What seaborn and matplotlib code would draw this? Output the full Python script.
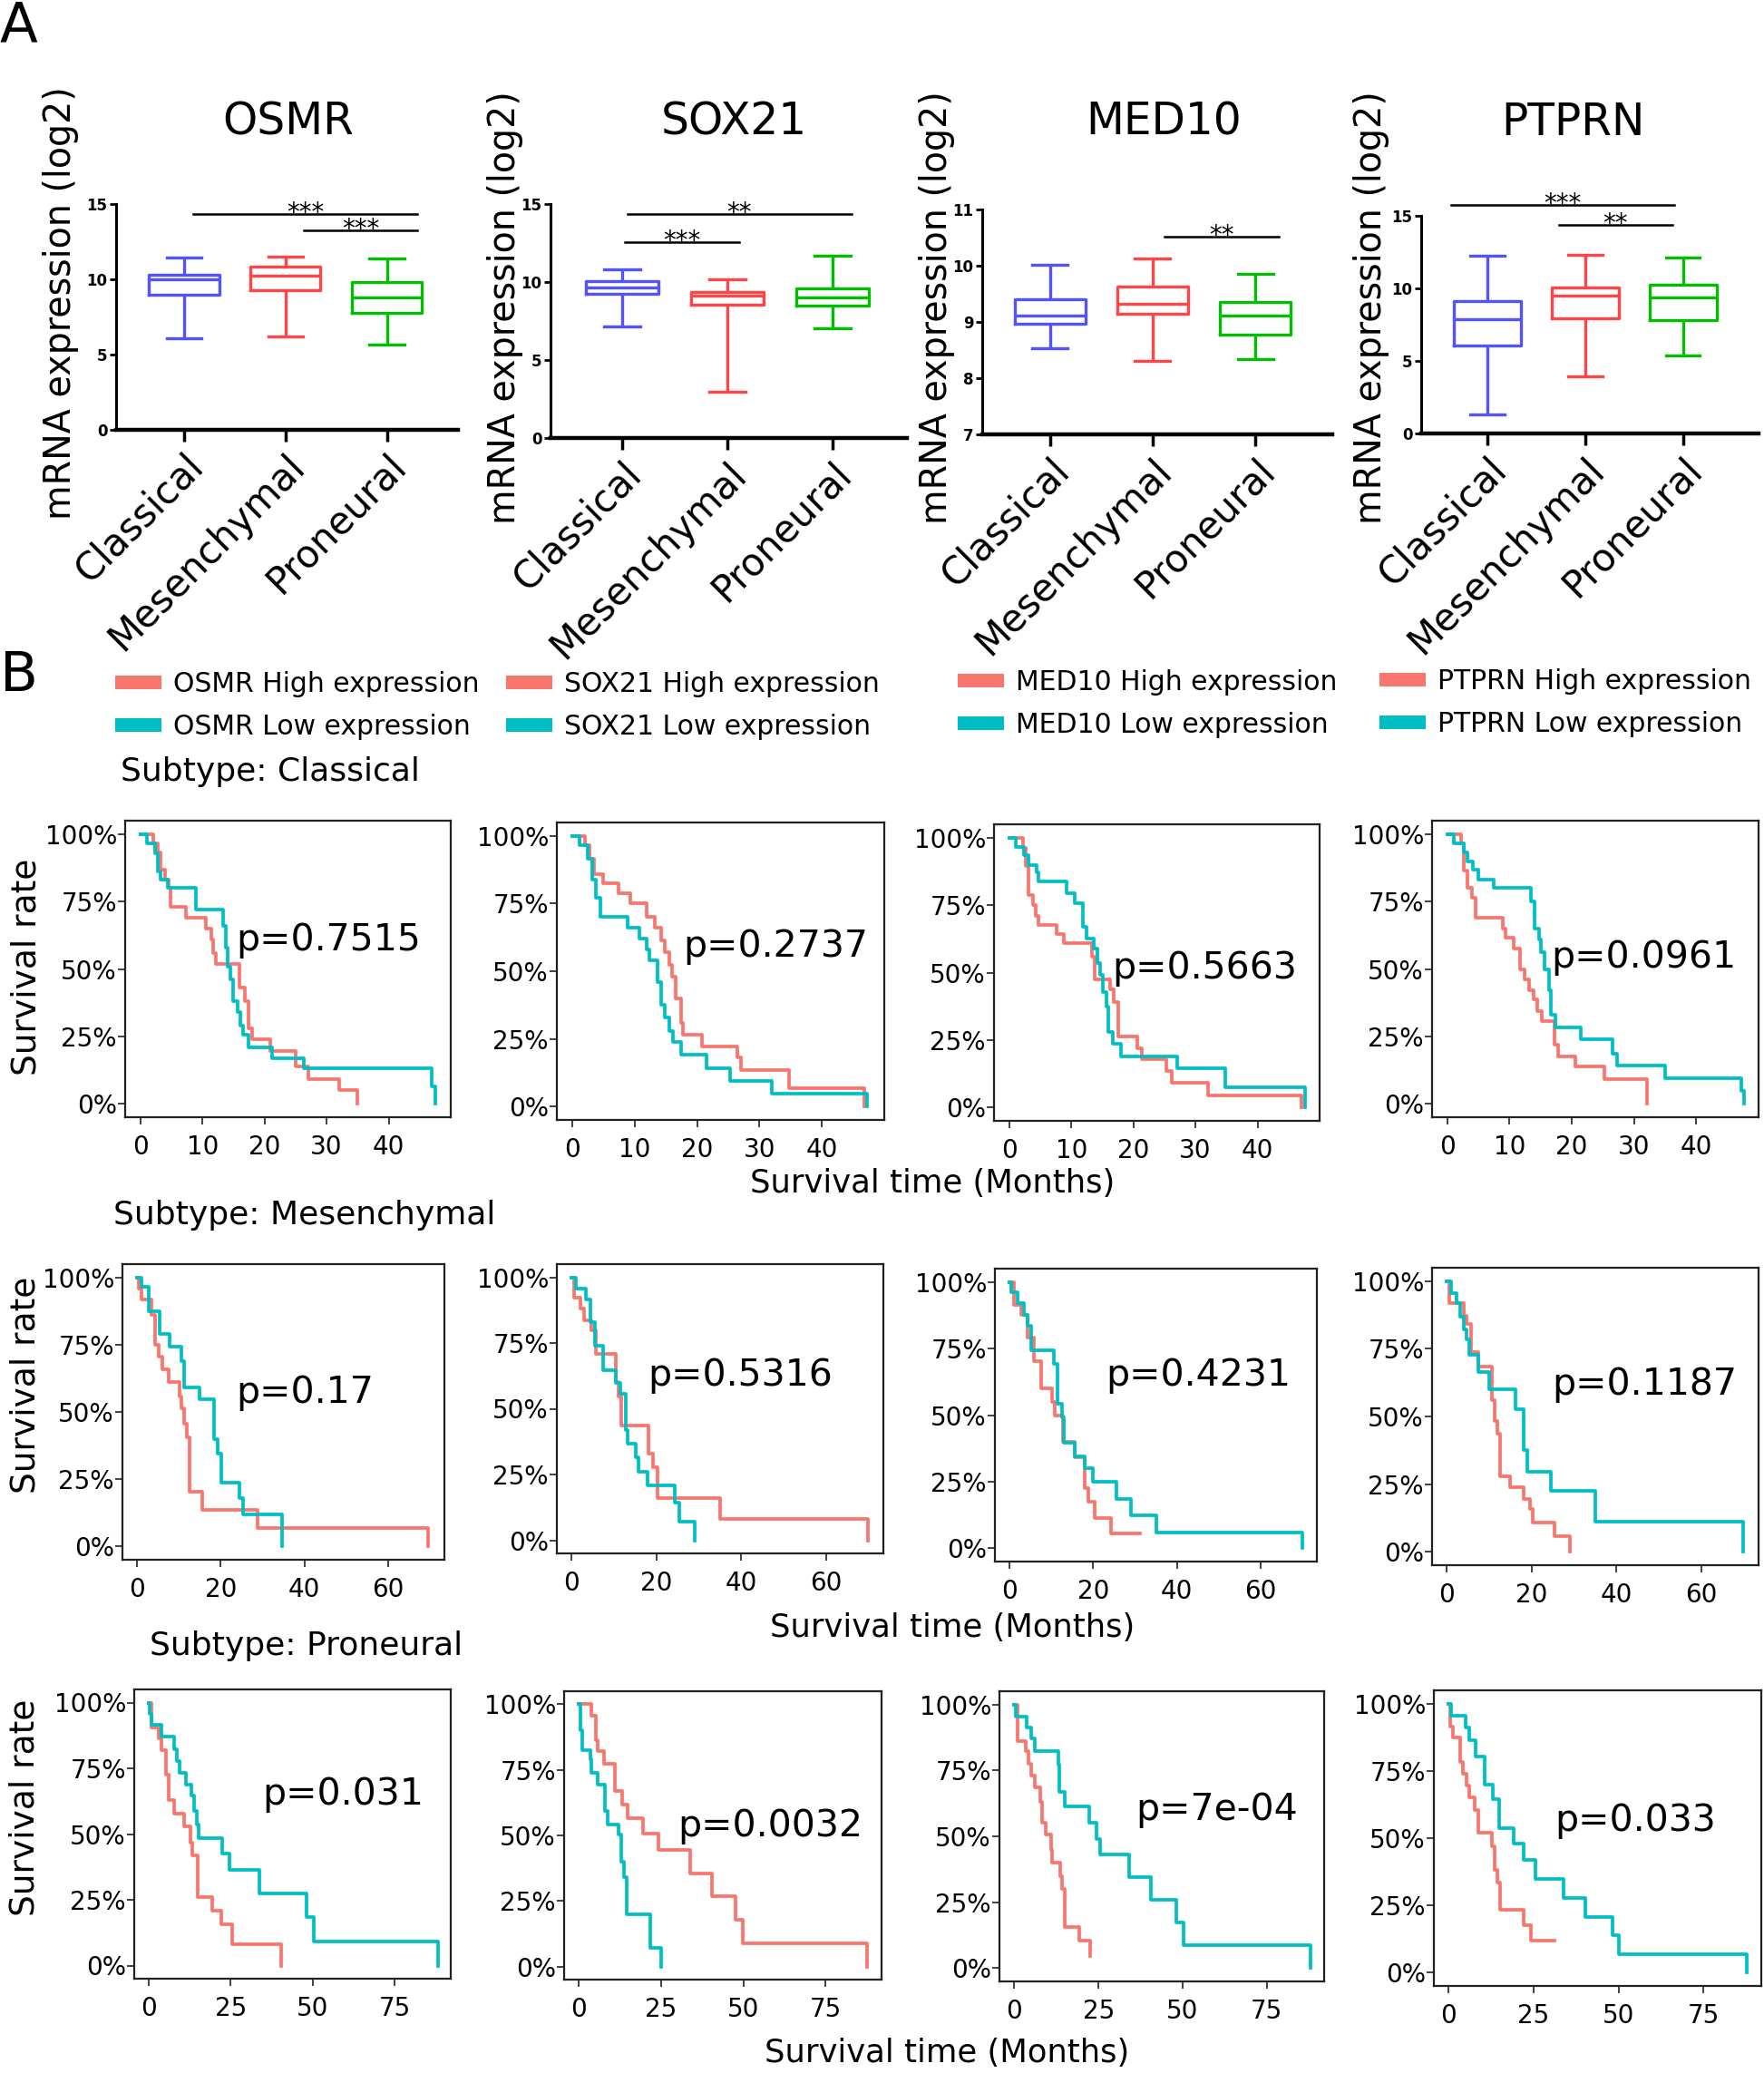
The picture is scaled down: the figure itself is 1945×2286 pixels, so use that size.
import numpy as np
import pandas as pd
import matplotlib
matplotlib.use("Agg")
import matplotlib.pyplot as plt
import seaborn as sns
from matplotlib.patches import Patch

# ============================ DATA ============================
GENES = ["OSMR", "SOX21", "MED10", "PTPRN"]
SUBTYPES = ["Classical", "Mesenchymal", "Proneural"]

# Box stats per subtype: [min whisker, Q1, median, Q3, max whisker]
OSMR_BOX = [[6.07, 9.00, 9.98, 10.30, 11.45],
            [6.22, 9.27, 10.24, 10.84, 11.50],
            [5.66, 7.77, 8.77, 9.82, 11.38]]
SOX21_BOX = [[7.15, 9.22, 9.63, 10.06, 10.83],
             [2.95, 8.57, 9.15, 9.38, 10.20],
             [7.05, 8.47, 8.99, 9.58, 11.67]]
MED10_BOX = [[8.53, 8.96, 9.12, 9.41, 10.02],
             [8.30, 9.15, 9.33, 9.63, 10.13],
             [8.34, 8.77, 9.12, 9.36, 9.85]]
PTPRN_BOX = [[1.31, 6.04, 7.88, 9.13, 12.25],
             [3.96, 7.92, 9.48, 10.04, 12.29],
             [5.37, 7.81, 9.38, 10.25, 12.14]]
BOX_YLIM = [(0, 15), (0, 15), (7, 11), (0, 15)]
BOX_YTICKS = [[0, 5, 10, 15], [0, 5, 10, 15], [7, 8, 9, 10, 11], [0, 5, 10, 15]]

# significance brackets: (x start, x end, y, label)
OSMR_SIG = [(0.09, 2.30, 14.36, "***"), (1.18, 2.30, 13.25, "***")]
SOX21_SIG = [(0.05, 2.18, 14.35, "**"), (0.03, 1.11, 12.58, "***")]
MED10_SIG = [(1.12, 2.23, 10.52, "**")]
PTPRN_SIG = [(-0.37, 1.91, 15.73, "***"), (0.73, 1.89, 14.40, "**")]

# Kaplan-Meier step curves (time in months, survival fraction)
CLA_OSMR_HIGH_T = [0, 2.1, 2.75, 3.3, 3.95, 4.6, 4.9, 7.3, 10.6, 11.5, 11.7, 12.2, 15.9, 16.8, 17.4, 18.0, 20.9, 25.0, 27.1, 32.1, 35.0]
CLA_OSMR_HIGH_S = [1.0, 0.966, 0.933, 0.87, 0.83, 0.80, 0.73, 0.69, 0.65, 0.61, 0.56, 0.52, 0.43, 0.38, 0.28, 0.24, 0.195, 0.14, 0.09, 0.05, 0.0]
CLA_OSMR_LOW_T = [0, 1.0, 2.3, 2.85, 3.3, 4.4, 9.0, 13.3, 13.7, 14.0, 14.5, 15.0, 15.7, 16.1, 16.6, 17.4, 21.2, 26.4, 46.9, 47.5]
CLA_OSMR_LOW_S = [1.0, 0.965, 0.93, 0.86, 0.83, 0.80, 0.72, 0.66, 0.58, 0.51, 0.46, 0.38, 0.34, 0.29, 0.255, 0.21, 0.17, 0.13, 0.064, 0.0]
CLA_SOX21_HIGH_T = [0, 2.0, 2.74, 3.47, 5.0, 7.5, 9.3, 11.9, 13.2, 14.2, 14.9, 15.5, 16.0, 16.6, 17.4, 17.8, 20.8, 26.5, 27.1, 34.7, 46.8]
CLA_SOX21_HIGH_S = [1.0, 0.966, 0.916, 0.86, 0.825, 0.79, 0.75, 0.70, 0.66, 0.615, 0.57, 0.525, 0.48, 0.40, 0.31, 0.265, 0.22, 0.18, 0.134, 0.067, 0.0]
CLA_SOX21_LOW_T = [0, 1.2, 2.56, 3.2, 3.84, 4.57, 8.86, 10.7, 11.9, 12.3, 13.7, 14.2, 14.9, 15.5, 16.2, 17.5, 21.5, 25.3, 32.0, 47.2]
CLA_SOX21_LOW_S = [1.0, 0.966, 0.916, 0.84, 0.77, 0.70, 0.66, 0.62, 0.58, 0.54, 0.46, 0.375, 0.33, 0.28, 0.237, 0.19, 0.142, 0.095, 0.047, 0.0]
CLA_MED10_HIGH_T = [0, 2.17, 2.7, 3.17, 3.8, 4.25, 4.7, 7.6, 8.8, 13.3, 13.75, 16.3, 16.9, 17.6, 20.7, 21.3, 25.3, 26.2, 32.0, 47.1]
CLA_MED10_HIGH_S = [1.0, 0.963, 0.896, 0.786, 0.75, 0.71, 0.677, 0.644, 0.61, 0.56, 0.476, 0.437, 0.39, 0.263, 0.218, 0.18, 0.134, 0.09, 0.045, 0.0]
CLA_MED10_LOW_T = [0, 1.1, 2.44, 3.17, 4.4, 4.7, 9.2, 10.6, 11.9, 12.4, 13.6, 14.2, 14.7, 15.1, 15.6, 16.0, 16.7, 18.0, 27.1, 34.8, 47.7]
CLA_MED10_LOW_S = [1.0, 0.965, 0.935, 0.90, 0.873, 0.838, 0.795, 0.756, 0.67, 0.627, 0.588, 0.537, 0.493, 0.426, 0.375, 0.28, 0.235, 0.19, 0.146, 0.073, 0.0]
CLA_PTPRN_HIGH_T = [0, 2.26, 2.7, 3.16, 3.9, 4.5, 8.85, 9.3, 10.7, 11.7, 12.4, 13.1, 13.8, 14.5, 15.2, 17.2, 17.8, 20.5, 25.3, 32.1]
CLA_PTPRN_HIGH_S = [1.0, 0.966, 0.865, 0.80, 0.765, 0.69, 0.65, 0.617, 0.577, 0.50, 0.46, 0.42, 0.386, 0.344, 0.307, 0.22, 0.176, 0.137, 0.09, 0.0]
CLA_PTPRN_LOW_T = [0, 1.08, 2.7, 3.16, 4.07, 4.97, 7.5, 13.4, 14.0, 14.7, 15.1, 15.6, 16.3, 16.7, 17.4, 21.4, 26.5, 27.3, 35.0, 47.2, 47.7]
CLA_PTPRN_LOW_S = [1.0, 0.966, 0.933, 0.90, 0.868, 0.832, 0.80, 0.75, 0.65, 0.61, 0.563, 0.50, 0.42, 0.33, 0.283, 0.238, 0.187, 0.142, 0.094, 0.047, 0.0]

MES_OSMR_HIGH_T = [0, 0.4, 1.1, 3.4, 4.3, 5.2, 6.1, 7.5, 10.2, 10.6, 11.3, 11.9, 12.6, 15.6, 28.9, 69.6]
MES_OSMR_HIGH_S = [1.0, 0.958, 0.92, 0.86, 0.75, 0.705, 0.66, 0.612, 0.558, 0.513, 0.457, 0.406, 0.203, 0.135, 0.068, 0.0]
MES_OSMR_LOW_T = [0, 1.1, 2.7, 5.4, 7.7, 10.6, 11.3, 14.9, 18.3, 19.3, 20.1, 24.4, 25.4, 34.6]
MES_OSMR_LOW_S = [1.0, 0.964, 0.874, 0.79, 0.744, 0.688, 0.592, 0.547, 0.40, 0.344, 0.237, 0.18, 0.118, 0.0]
MES_SOX21_HIGH_T = [0, 0.67, 2.0, 3.0, 4.7, 5.8, 10.5, 11.05, 11.7, 18.2, 19.1, 20.2, 35.0, 69.8]
MES_SOX21_HIGH_S = [1.0, 0.922, 0.882, 0.837, 0.797, 0.71, 0.602, 0.545, 0.437, 0.328, 0.277, 0.162, 0.082, 0.0]
MES_SOX21_LOW_T = [0, 1.08, 3.37, 4.45, 5.4, 7.4, 10.5, 11.5, 12.8, 13.2, 15.1, 15.8, 17.8, 24.3, 25.3, 29.0]
MES_SOX21_LOW_S = [1.0, 0.957, 0.917, 0.83, 0.74, 0.648, 0.597, 0.557, 0.42, 0.368, 0.317, 0.262, 0.208, 0.143, 0.071, 0.0]
MES_MED10_HIGH_T = [0, 1.08, 2.7, 4.4, 5.8, 7.5, 10.1, 10.8, 12.8, 15.6, 17.9, 18.8, 20.3, 24.2, 31.1]
MES_MED10_HIGH_S = [1.0, 0.915, 0.875, 0.79, 0.704, 0.60, 0.55, 0.50, 0.40, 0.34, 0.225, 0.174, 0.112, 0.055, 0.055]
MES_MED10_LOW_T = [0, 0.4, 2.0, 3.5, 4.4, 5.1, 10.5, 11.4, 12.5, 12.9, 15.6, 17.9, 19.9, 25.6, 29.1, 35.0, 70.0]
MES_MED10_LOW_S = [1.0, 0.96, 0.92, 0.875, 0.835, 0.744, 0.692, 0.544, 0.493, 0.396, 0.345, 0.30, 0.248, 0.186, 0.123, 0.06, 0.0]
MES_PTPRN_HIGH_T = [0, 0.66, 4.0, 4.6, 5.6, 7.5, 10.6, 11.3, 11.9, 12.6, 14.8, 18.1, 19.6, 20.3, 25.4, 29.1]
MES_PTPRN_HIGH_S = [1.0, 0.918, 0.873, 0.842, 0.739, 0.683, 0.56, 0.482, 0.437, 0.28, 0.24, 0.196, 0.157, 0.106, 0.056, 0.0]
MES_PTPRN_LOW_T = [0, 0.93, 2.25, 3.05, 4.0, 4.6, 5.3, 7.5, 9.9, 16.2, 18.1, 18.9, 24.5, 35.1, 69.9]
MES_PTPRN_LOW_S = [1.0, 0.957, 0.918, 0.868, 0.823, 0.784, 0.728, 0.666, 0.60, 0.526, 0.375, 0.297, 0.224, 0.112, 0.0]

PRO_OSMR_HIGH_T = [0, 0.87, 3.1, 3.8, 5.2, 6.1, 7.8, 10.7, 12.6, 13.3, 14.9, 19.4, 22.2, 25.5, 40.4]
PRO_OSMR_HIGH_S = [1.0, 0.905, 0.864, 0.82, 0.727, 0.63, 0.577, 0.53, 0.468, 0.42, 0.26, 0.21, 0.158, 0.081, 0.0]
PRO_OSMR_LOW_T = [0, 0.35, 0.87, 4.0, 7.8, 8.7, 9.5, 11.3, 13.0, 13.9, 14.7, 15.2, 22.5, 24.6, 33.8, 48.0, 50.2, 88.0]
PRO_OSMR_LOW_S = [1.0, 0.956, 0.916, 0.87, 0.824, 0.778, 0.732, 0.687, 0.646, 0.589, 0.537, 0.483, 0.426, 0.365, 0.273, 0.184, 0.09, 0.0]
PRO_SOX21_HIGH_T = [0, 4.0, 5.2, 5.7, 7.8, 10.9, 13.2, 14.9, 19.6, 24.3, 33.8, 40.4, 47.6, 49.9, 87.6]
PRO_SOX21_HIGH_S = [1.0, 0.956, 0.864, 0.822, 0.772, 0.669, 0.617, 0.566, 0.508, 0.445, 0.355, 0.267, 0.18, 0.09, 0.0]
PRO_SOX21_LOW_T = [0, 0.52, 1.04, 3.46, 4.0, 5.7, 8.0, 8.8, 12.1, 13.0, 13.9, 14.7, 21.8, 25.1]
PRO_SOX21_LOW_S = [1.0, 0.902, 0.824, 0.79, 0.738, 0.692, 0.594, 0.543, 0.502, 0.40, 0.341, 0.198, 0.071, 0.0]
PRO_MED10_HIGH_T = [0, 1.0, 3.3, 4.2, 5.0, 6.0, 7.7, 8.3, 9.2, 11.0, 11.3, 13.7, 14.2, 15.0, 19.2, 22.5]
PRO_MED10_HIGH_S = [1.0, 0.862, 0.822, 0.776, 0.73, 0.684, 0.632, 0.552, 0.506, 0.448, 0.402, 0.35, 0.30, 0.155, 0.103, 0.046]
PRO_MED10_LOW_T = [0, 0.5, 3.8, 5.0, 6.0, 13.0, 13.3, 15.0, 22.2, 24.3, 25.5, 34.0, 40.5, 48.0, 50.2, 88.0]
PRO_MED10_LOW_S = [1.0, 0.954, 0.914, 0.871, 0.822, 0.77, 0.667, 0.615, 0.552, 0.489, 0.431, 0.345, 0.259, 0.172, 0.086, 0.0]
PRO_PTPRN_HIGH_T = [0, 0.5, 1.14, 3.3, 4.1, 5.2, 6.0, 7.7, 8.6, 12.6, 13.5, 14.3, 15.0, 22.0, 24.1, 31.0]
PRO_PTPRN_HIGH_S = [1.0, 0.915, 0.873, 0.785, 0.74, 0.695, 0.652, 0.605, 0.52, 0.469, 0.381, 0.333, 0.234, 0.175, 0.119, 0.119]
PRO_PTPRN_LOW_T = [0, 0.8, 4.9, 6.0, 7.8, 10.6, 13.0, 14.7, 19.1, 22.0, 25.6, 33.8, 40.3, 48.1, 50.1, 87.6]
PRO_PTPRN_LOW_S = [1.0, 0.957, 0.91, 0.864, 0.805, 0.70, 0.644, 0.537, 0.48, 0.418, 0.348, 0.277, 0.207, 0.139, 0.068, 0.0]

CLA_P = ["p=0.7515", "p=0.2737", "p=0.5663", "p=0.0961"]
MES_P = ["p=0.17", "p=0.5316", "p=0.4231", "p=0.1187"]
PRO_P = ["p=0.031", "p=0.0032", "p=7e-04", "p=0.033"]

CLA_XTICKS = [0, 10, 20, 30, 40]
MES_XTICKS = [0, 20, 40, 60]
PRO_XTICKS = [0, 25, 50, 75]
PCT_TICKS = [0, 0.25, 0.5, 0.75, 1.0]
PCT_LABELS = ["0%", "25%", "50%", "75%", "100%"]
SUBTYPE_TITLES = ["Subtype: Classical", "Subtype: Mesenchymal", "Subtype: Proneural"]

# ============================ STYLE / LAYOUT ============================
plt.rcParams["font.family"] = ["DejaVu Sans"]
W, H = 1945, 2286
BOX_COLORS = ["#5252FF", "#FF4545", "#00BE00"]
KM_HIGH = "#F8766D"
KM_LOW = "#00BFC4"


def px_rect(l, r, t, b):
    return [l / W, 1 - b / H, (r - l) / W, (b - t) / H]


fig = plt.figure(figsize=(W / 100, H / 100), dpi=100)
fig.patch.set_facecolor("white")

# ---------------- Panel A: boxplots ----------------
BOX_FRAMES = [(128, 505, 225, 474), (607, 1000, 225, 483), (1083, 1469, 231, 479), (1567, 1939, 238, 478)]
BOX_XLIMS = [(-0.67, 2.70), (-0.68, 2.71), (-0.66, 2.75), (-0.676, 2.77)]
TITLE_POS = [(0.504, 1.33), (0.514, 1.318), (0.518, 1.355), (0.45, 1.395)]
YLABEL_POS = [(-0.11, 0.562), (-0.076, 0.558), (-0.078, 0.565), (-0.094, 0.58)]

box_data = [OSMR_BOX, SOX21_BOX, MED10_BOX, PTPRN_BOX]
box_sigs = [OSMR_SIG, SOX21_SIG, MED10_SIG, PTPRN_SIG]

for i, gene in enumerate(GENES):
    ax = fig.add_axes(px_rect(*BOX_FRAMES[i]))
    df = pd.DataFrame({"subtype": np.repeat(SUBTYPES, 5),
                       "expr": np.concatenate(box_data[i])})
    sns.boxplot(data=df, x="subtype", y="expr", hue="subtype",
                order=SUBTYPES, hue_order=SUBTYPES, palette=BOX_COLORS,
                fill=False, whis=(0, 100), width=0.69, linewidth=2.4,
                legend=False, ax=ax)
    ax.set_xlim(*BOX_XLIMS[i])
    ax.set_ylim(*BOX_YLIM[i])
    ax.set_yticks(BOX_YTICKS[i])
    ax.set_xticks([0, 1, 2])
    ax.set_xticklabels(SUBTYPES, rotation=45, ha="right", va="top",
                       rotation_mode="anchor", fontsize=30)
    ax.tick_params(axis="x", length=9, width=2.5, pad=4)
    ax.tick_params(axis="y", length=5, width=2, pad=2, labelsize=12)
    for lbl in ax.get_yticklabels():
        lbl.set_fontweight("bold")
    for s in ["top", "right"]:
        ax.spines[s].set_visible(False)
    ax.spines["left"].set_linewidth(2.2)
    ax.spines["bottom"].set_linewidth(3.2)
    ax.set_xlabel("")
    ax.set_ylabel("mRNA expression (log2)", fontsize=28.5)
    ax.yaxis.set_label_coords(*YLABEL_POS[i])
    ax.set_title(gene, fontsize=35, x=TITLE_POS[i][0], y=TITLE_POS[i][1], va="center")
    for x1, x2, y, lab in box_sigs[i]:
        ax.plot([x1, x2], [y, y], color="black", lw=1.8, clip_on=False)
        ax.annotate(lab, xy=((x1 + x2) / 2, y), xytext=(0, -5),
                    textcoords="offset points", ha="center", va="baseline",
                    fontsize=20, annotation_clip=False)

fig.text(0.0, 1 - 29 / H, "A", fontsize=44, ha="left", va="center")
fig.text(0.0, 1 - 745 / H, "B", fontsize=44, ha="left", va="center")

# ---------------- Panel B legends ----------------
LEG_X = [127, 558, 1056, 1521]
LEG_Y = [778, 778, 776, 775]
for i, gene in enumerate(GENES):
    handles = [Patch(facecolor=KM_HIGH, edgecolor="none"),
               Patch(facecolor=KM_LOW, edgecolor="none")]
    fig.legend(handles, [f"{gene} High expression", f"{gene} Low expression"],
               loc="center left", bbox_to_anchor=(LEG_X[i] / W, 1 - LEG_Y[i] / H),
               frameon=False, fontsize=21.5, handlelength=1.7, handleheight=0.4,
               handletextpad=0.45, labelspacing=0.62, borderpad=0, borderaxespad=0)

# ---------------- Panel B: KM curves ----------------
KM_ROWS = [
    [(CLA_OSMR_HIGH_T, CLA_OSMR_HIGH_S, CLA_OSMR_LOW_T, CLA_OSMR_LOW_S),
     (CLA_SOX21_HIGH_T, CLA_SOX21_HIGH_S, CLA_SOX21_LOW_T, CLA_SOX21_LOW_S),
     (CLA_MED10_HIGH_T, CLA_MED10_HIGH_S, CLA_MED10_LOW_T, CLA_MED10_LOW_S),
     (CLA_PTPRN_HIGH_T, CLA_PTPRN_HIGH_S, CLA_PTPRN_LOW_T, CLA_PTPRN_LOW_S)],
    [(MES_OSMR_HIGH_T, MES_OSMR_HIGH_S, MES_OSMR_LOW_T, MES_OSMR_LOW_S),
     (MES_SOX21_HIGH_T, MES_SOX21_HIGH_S, MES_SOX21_LOW_T, MES_SOX21_LOW_S),
     (MES_MED10_HIGH_T, MES_MED10_HIGH_S, MES_MED10_LOW_T, MES_MED10_LOW_S),
     (MES_PTPRN_HIGH_T, MES_PTPRN_HIGH_S, MES_PTPRN_LOW_T, MES_PTPRN_LOW_S)],
    [(PRO_OSMR_HIGH_T, PRO_OSMR_HIGH_S, PRO_OSMR_LOW_T, PRO_OSMR_LOW_S),
     (PRO_SOX21_HIGH_T, PRO_SOX21_HIGH_S, PRO_SOX21_LOW_T, PRO_SOX21_LOW_S),
     (PRO_MED10_HIGH_T, PRO_MED10_HIGH_S, PRO_MED10_LOW_T, PRO_MED10_LOW_S),
     (PRO_PTPRN_HIGH_T, PRO_PTPRN_HIGH_S, PRO_PTPRN_LOW_T, PRO_PTPRN_LOW_S)],
]
ROW_P = [CLA_P, MES_P, PRO_P]
ROW_XTICKS = [CLA_XTICKS, MES_XTICKS, PRO_XTICKS]
ROW_XLIM = [(-2.45, 50.0), (-3.5, 73.5), (-4.4, 92.0)]
KM_FRAMES = [
    [(138, 497, 905, 1232), (614, 975, 907, 1235), (1096, 1455, 909, 1236), (1579, 1939, 905, 1232)],
    [(135, 490, 1394, 1720), (614, 974, 1394, 1713), (1097, 1452, 1399, 1722), (1579, 1939, 1398, 1726)],
    [(148, 497, 1863, 2182), (622, 972, 1865, 2183), (1102, 1460, 1865, 2185), (1581, 1942, 1864, 2190)],
]
P_XY = [[(30.3, 0.605), (32.6, 0.59), (31.5, 0.514), (31.6, 0.543)],
        [(40.2, 0.572), (39.8, 0.627), (45.1, 0.649), (46.7, 0.618)],
        [(59.3, 0.65), (58.3, 0.534), (60.0, 0.60), (54.8, 0.563)]]
SURV_YLABEL_POS = [(-0.253, 0.508), (-0.248, 0.59), (-0.295, 0.59)]
SUBTYPE_POS = [(133, 851), (125, 1340), (165, 1815)]
XLABEL_POS = [(1028, 1305), (1050, 1795), (1044, 2264)]

for r in range(3):
    for c in range(4):
        ht, hs, lt, ls = KM_ROWS[r][c]
        ax = fig.add_axes(px_rect(*KM_FRAMES[r][c]))
        sns.lineplot(x=ht, y=hs, color=KM_HIGH, drawstyle="steps-post", lw=2.7,
                     estimator=None, sort=False, ax=ax)
        sns.lineplot(x=lt, y=ls, color=KM_LOW, drawstyle="steps-post", lw=2.7,
                     estimator=None, sort=False, ax=ax)
        ax.set_xlim(*ROW_XLIM[r])
        ax.set_ylim(-0.05, 1.05)
        ax.set_xticks(ROW_XTICKS[r])
        ax.set_yticks(PCT_TICKS)
        ax.set_yticklabels(PCT_LABELS)
        ax.tick_params(axis="both", labelsize=20, length=5.5, width=1.3, color="#333333")
        ax.tick_params(axis="x", pad=8)
        ax.tick_params(axis="y", pad=1)
        for s in ax.spines.values():
            s.set_linewidth(1.6)
            s.set_color("#222222")
        ax.set_xlabel("")
        ax.set_ylabel("")
        px, py = P_XY[r][c]
        ax.text(px, py, ROW_P[r][c], ha="center", va="center", fontsize=29.5)
        if c == 0:
            ax.set_ylabel("Survival rate", fontsize=27)
            ax.yaxis.set_label_coords(*SURV_YLABEL_POS[r])
    sx, sy = SUBTYPE_POS[r]
    fig.text(sx / W, 1 - sy / H, SUBTYPE_TITLES[r], fontsize=26, ha="left", va="center")
    xx, xy = XLABEL_POS[r]
    fig.text(xx / W, 1 - xy / H, "Survival time (Months)", fontsize=25.5, ha="center", va="center")

fig.savefig("out.png", dpi=100, facecolor="white")
